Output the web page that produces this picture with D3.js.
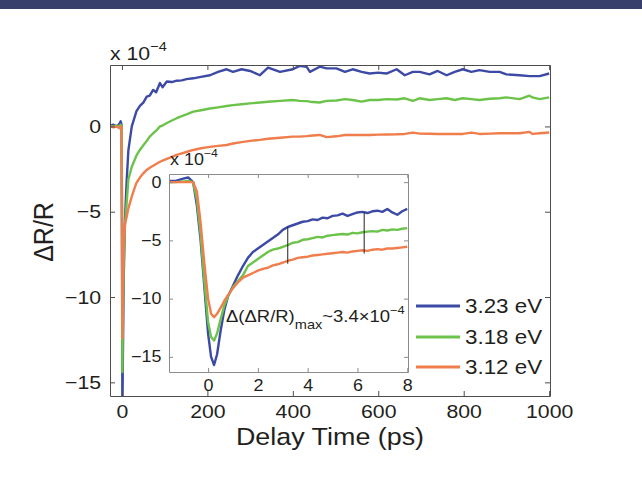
<!DOCTYPE html>
<html>
<head>
<meta charset="utf-8">
<script src="https://cdn.jsdelivr.net/npm/d3@7"></script>
<style>
	body { margin: 0; background: #fff; }
	text { font-family: "Liberation Sans", Arial, sans-serif; fill: #231f20; }
</style>
</head>
<body>
<svg id="chart" width="642" height="477"></svg>
<script>
// main panel: delay time (ps) and dR/R (x1e-4)
var mainT = [-28,-20,-12,-6,-3,-1,0,1,2,4,
	7,11,15,23,34,42,50,58,65,73,
	80,89,95,105,117,128,140,151,167,185,
	206,225,245,260,280,300,323,342,370,400,
	416,432,440,463,479,502,522,540,561,580,
	600,619,643,662,681,697,720,739,760,779,
	798,818,837,861,884,900,931,954,961,978,
	1000];
var main323 = [0.05,0.1,0,0.15,0.3,0.1,-6,-17,-14,-9,
	-5.5,-3.2,-1.4,0,0.9,1.2,1.4,1.75,1.8,2.14,
	2.0,2.54,2.3,2.63,2.6,2.68,2.7,2.77,2.82,2.9,
	3.0,3.2,3.35,3.2,3.35,3.25,3.0,3.45,3.2,3.35,
	3.55,3.5,3.2,3.5,3.4,3.4,3.2,3.35,3.2,3.1,
	3.15,3.1,3.35,3.0,3.2,3.2,3.05,3.25,3.0,3.2,
	3.35,3.2,3.3,3.2,3.2,3.05,3.0,2.95,2.95,2.95,
	3.1];
var main318 = [0,0,0.05,0,0.1,0,-5,-14.4,-11.5,-8,
	-5.8,-4.5,-3.1,-2.36,-1.7,-1.38,-1.1,-0.85,-0.6,-0.4,
	-0.25,0,0.05,0.2,0.35,0.48,0.6,0.7,0.87,0.95,
	1.05,1.12,1.2,1.25,1.3,1.35,1.4,1.45,1.5,1.55,
	1.5,1.48,1.45,1.4,1.5,1.52,1.6,1.55,1.45,1.55,
	1.55,1.6,1.58,1.65,1.5,1.65,1.55,1.6,1.65,1.55,
	1.65,1.6,1.55,1.62,1.65,1.7,1.6,1.8,1.7,1.6,
	1.7];
var main312 = [0,-0.05,0,-0.1,0,0,-4,-12.4,-9.5,-7,
	-5.7,-5.3,-4.8,-4.1,-3.3,-3.0,-2.75,-2.55,-2.42,-2.3,
	-2.2,-2.07,-2.0,-1.9,-1.78,-1.67,-1.58,-1.5,-1.38,-1.28,
	-1.2,-1.14,-1.09,-1.0,-0.92,-0.85,-0.79,-0.72,-0.66,-0.6,
	-0.6,-0.57,-0.55,-0.5,-0.63,-0.58,-0.5,-0.5,-0.5,-0.5,
	-0.48,-0.47,-0.46,-0.44,-0.36,-0.42,-0.43,-0.44,-0.44,-0.44,
	-0.44,-0.36,-0.44,-0.42,-0.4,-0.4,-0.4,-0.32,-0.44,-0.4,
	-0.36];

// inset: first 8 ps
var insetT = [-1.57,-1.3,-1.0,-0.8,-0.6,-0.45,-0.3,-0.15,0,0.12,
	0.24,0.36,0.5,0.65,0.8,1.0,1.2,1.4,1.6,1.8,
	2.0,2.2,2.4,2.6,2.8,3.0,3.2,3.4,3.6,3.8,
	4.0,4.2,4.4,4.6,4.8,5.0,5.2,5.4,5.6,5.8,
	6.0,6.2,6.4,6.6,6.8,7.0,7.2,7.4,7.6,7.8,
	8.0];
var inset323 = [0.1,0.1,0.3,0.4,0.0,-2.0,-5.0,-9.0,-13.0,-15.0,
	-15.7,-14.8,-12.8,-11.0,-9.8,-8.9,-8.0,-7.2,-6.5,-6.0,
	-5.7,-5.4,-5.1,-4.8,-4.5,-4.1,-3.85,-3.7,-3.55,-3.4,
	-3.35,-3.2,-3.25,-3.05,-3.1,-2.9,-2.85,-2.7,-2.9,-2.75,
	-2.6,-2.55,-2.65,-2.5,-2.45,-2.55,-2.3,-2.6,-2.8,-2.5,
	-2.3];
var inset318 = [0,0,0.05,0.1,0,-1.5,-4.5,-8.5,-12.0,-13.3,
	-13.6,-13.0,-11.8,-10.6,-9.8,-9.0,-8.5,-8.0,-7.2,-6.9,
	-6.6,-6.3,-6.0,-5.8,-5.7,-5.55,-5.4,-5.2,-5.15,-4.95,
	-4.9,-4.8,-4.7,-4.75,-4.6,-4.55,-4.5,-4.45,-4.5,-4.35,
	-4.4,-4.3,-4.25,-4.2,-4.25,-4.1,-4.15,-4.05,-4.1,-4.0,
	-3.95];
var inset312 = [0,0,0,0,0,-0.8,-3.5,-7.0,-10.0,-11.3,
	-11.6,-11.3,-10.8,-10.2,-9.7,-9.1,-8.6,-8.2,-8.0,-7.8,
	-7.6,-7.45,-7.35,-7.15,-7.05,-6.9,-6.75,-6.65,-6.5,-6.45,
	-6.4,-6.3,-6.25,-6.2,-6.15,-6.1,-6.05,-6.0,-6.05,-5.95,
	-5.9,-5.85,-5.9,-5.8,-5.75,-5.8,-5.7,-5.7,-5.65,-5.6,
	-5.55];

var labels = ["3.23 eV", "3.18 eV", "3.12 eV"];
var colors = ["#3c4aa6", "#6cc34a", "#f07e4c"];
var mainXTicks = [0,200,400,600,800,1000];
var mainYTicks = [0,-5,-10,-15];
var insetXTicks = [0,2,4,6,8];
var insetYTicks = [0,-5,-10,-15];
// the two delta markers in the inset (ps)
var markT = [3.2, 6.27];

var SX = 1.12; // the picture is stretched sideways a bit

function fmt(d){
	return String(d).replace("-","\u2212");
}

function draw(){
	var svg = d3.select("#chart");

	// dark strip on top
	svg.append("rect").attr("x",0).attr("y",0).attr("width",642).attr("height",9).attr("fill","#383f6b");

	var mx = d3.scaleLinear().domain([-28,1002]).range([110,550]);
	var my = d3.scaleLinear().domain([-15.8,3.6]).range([396,65]);
	var ix = d3.scaleLinear().domain([-1.57,8.03]).range([169,408]);
	var iy = d3.scaleLinear().domain([-16.3,0.7]).range([372,174]);

	svg.append("clipPath").attr("id","mclip").append("rect")
		.attr("x",110).attr("y",65).attr("width",440).attr("height",331);
	svg.append("clipPath").attr("id","iclip").append("rect")
		.attr("x",169).attr("y",174).attr("width",239).attr("height",198);

	function txt(x, y, str, size, anchor){
		return svg.append("text")
			.attr("transform","translate("+x+","+y+") scale("+SX+",1)")
			.attr("font-size",size)
			.attr("text-anchor",anchor || "start")
			.text(str);
	}

	function box(g, xs, ys, tl, color, fs){
		var x0 = xs.range()[0], x1 = xs.range()[1], y0 = ys.range()[1], y1 = ys.range()[0];
		var b = g.append("g").attr("transform","translate(0,"+y1+")")
			.call(d3.axisBottom(xs).tickValues(xs.ticksV).tickFormat(fmt).tickSizeInner(-tl).tickSizeOuter(0).tickPadding(fs*0.45));
		var t = g.append("g").attr("transform","translate(0,"+y0+")")
			.call(d3.axisTop(xs).tickValues(xs.ticksV).tickSizeInner(-tl).tickSizeOuter(0).tickFormat(""));
		var l = g.append("g").attr("transform","translate("+x0+",0)")
			.call(d3.axisLeft(ys).tickValues(ys.ticksV).tickFormat(fmt).tickSizeInner(-tl).tickSizeOuter(0).tickPadding(fs*0.42));
		var r = g.append("g").attr("transform","translate("+x1+",0)")
			.call(d3.axisRight(ys).tickValues(ys.ticksV).tickSizeInner(-tl).tickSizeOuter(0).tickFormat(""));
		[b,t,l,r].forEach(function(a){
			a.selectAll(".domain").attr("stroke",color);
			a.selectAll(".tick line").attr("stroke",color);
			a.selectAll("text")
				.attr("font-size",fs)
				.attr("font-family","'Liberation Sans', Arial, sans-serif")
				.attr("fill","#231f20")
				.attr("transform","scale("+SX+",1)");
		});
	}

	var line = function(xs, ys){
		return d3.line().x(function(d){ return xs(d[0]); }).y(function(d){ return ys(d[1]); });
	};

	// main panel
	mx.ticksV = mainXTicks; my.ticksV = mainYTicks;
	var gm = svg.append("g");
	var mainSeries = [main323, main318, main312];
	var mg = gm.append("g").attr("clip-path","url(#mclip)");
	mainSeries.forEach(function(vals, i){
		mg.append("path")
			.datum(mainT.map(function(t, k){ return [t, vals[k]]; }))
			.attr("d", line(mx,my))
			.attr("fill","none")
			.attr("stroke",colors[i])
			.attr("stroke-width",2.4)
			.attr("stroke-linejoin","round");
	});
	box(gm, mx, my, 5, "#4d4d4d", 19);

	var e1 = txt(110, 60, "x 10", 19);
	e1.append("tspan").attr("dy",-9).attr("font-size",13).text("\u22124");

	txt(330, 445, "Delay Time (ps)", 24, "middle");
	svg.append("text")
		.attr("transform","translate(53,232) rotate(-90) scale(1,"+SX+")")
		.attr("font-size",25).attr("text-anchor","middle").text("\u0394R/R");

	// inset panel
	ix.ticksV = insetXTicks; iy.ticksV = insetYTicks;
	var gi = svg.append("g");
	gi.append("rect").attr("x",169).attr("y",174).attr("width",239).attr("height",198).attr("fill","#fff");
	var insetSeries = [inset323, inset318, inset312];
	var ig = gi.append("g").attr("clip-path","url(#iclip)");
	insetSeries.forEach(function(vals, i){
		ig.append("path")
			.datum(insetT.map(function(t, k){ return [t, vals[k]]; }))
			.attr("d", line(ix,iy))
			.attr("fill","none")
			.attr("stroke",colors[i])
			.attr("stroke-width",2.4)
			.attr("stroke-linejoin","round");
	});

	// black markers between blue and orange
	markT.forEach(function(t){
		var top = d3.scaleLinear().domain(insetT).range(inset323)(t);
		var bot = d3.scaleLinear().domain(insetT).range(inset312)(t);
		gi.append("line")
			.attr("x1",ix(t)).attr("x2",ix(t))
			.attr("y1",iy(top)).attr("y2",iy(bot)+3)
			.attr("stroke","#222").attr("stroke-width",1);
	});
	box(gi, ix, iy, 4, "#8c8c8c", 16);

	var e2 = txt(170, 165, "x 10", 16);
	e2.append("tspan").attr("dy",-8).attr("font-size",11).text("\u22124");

	var an = txt(226, 322, "\u0394(\u0394R/R)", 16.5);
	an.append("tspan").attr("dy",7).attr("font-size",13).text("max");
	an.append("tspan").attr("dy",-7).attr("font-size",16.5).text("~3.4\u00d710");
	an.append("tspan").attr("dy",-8).attr("font-size",11.5).text("\u22124");

	// legend
	var ly = [306, 337, 367];
	labels.forEach(function(lab, i){
		svg.append("line")
			.attr("x1",416).attr("x2",460).attr("y1",ly[i]).attr("y2",ly[i])
			.attr("stroke",colors[i]).attr("stroke-width",3);
		txt(465, ly[i]+7, lab, 20);
	});
}

draw();
</script>
</body>
</html>
